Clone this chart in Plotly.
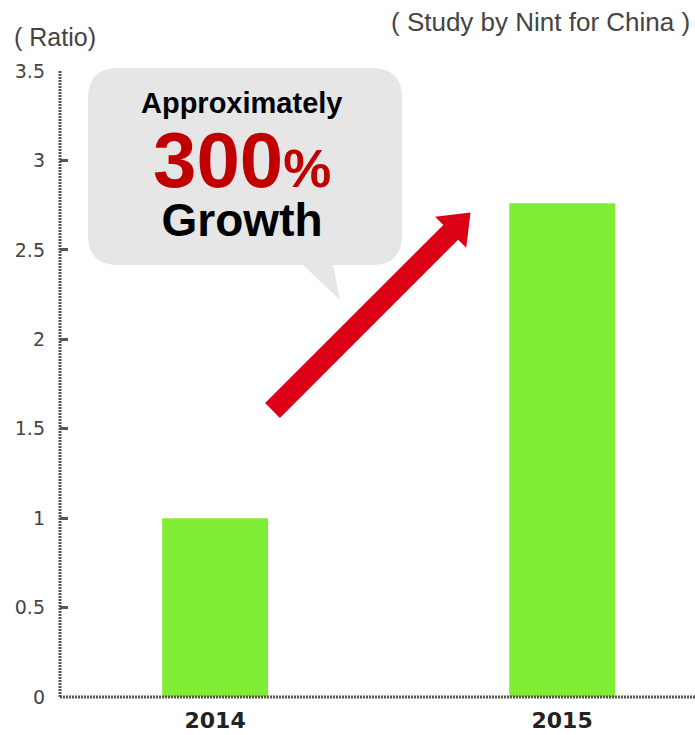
import math
import plotly.graph_objects as go

# Data
years = ["2014", "2015"]
ratio = [1.0, 2.76]
y_ticks = [0, 0.5, 1, 1.5, 2, 2.5, 3, 3.5]
y_tick_text = ["0", "0.5", "1", "1.5", "2", "2.5", "3", "3.5"]

W, H = 695, 735
M_L, M_R, M_T, M_B = 60, 0, 71, 38
PW, PH = W - M_L - M_R, H - M_T - M_B


def px(xp):
    return (xp - M_L) / PW


def py(yp):
    return (H - M_B - yp) / PH


def path_from(points, closed=True):
    s = "M " + " L ".join(f"{px(x):.5f},{py(y):.5f}" for x, y in points)
    return s + (" Z" if closed else "")


fig = go.Figure()
fig.add_trace(go.Bar(
    x=years, y=ratio, width=0.305,
    marker=dict(color="#80EE34", line=dict(width=0)),
    hoverinfo="skip",
))

# speech bubble
L, T, R, B, r = 88, 68, 402, 265, 30
bubble = (
    f"M {px(L + r)},{py(T)} L {px(R - r)},{py(T)} Q {px(R)},{py(T)} {px(R)},{py(T + r)} "
    f"L {px(R)},{py(B - r)} Q {px(R)},{py(B)} {px(R - r)},{py(B)} "
    f"L {px(333)},{py(B)} L {px(340)},{py(300)} L {px(303)},{py(B)} "
    f"L {px(L + r)},{py(B)} Q {px(L)},{py(B)} {px(L)},{py(B - r)} "
    f"L {px(L)},{py(T + r)} Q {px(L)},{py(T)} {px(L + r)},{py(T)} Z"
)

# growth arrow polygon
sx, sy = 272.5, 410.5
ux, uy = 1 / math.sqrt(2), -1 / math.sqrt(2)
nx, ny = 1 / math.sqrt(2), 1 / math.sqrt(2)


def pt(t, o):
    return (sx + ux * t + nx * o, sy + uy * t + ny * o)


arrow_pts = [pt(0, -10.5), pt(252, -10.5), pt(252, -22), pt(280, 0),
             pt(252, 22), pt(252, 10.5), pt(0, 10.5)]

dotted = dict(color="#555555", width=3, dash="2px,1px")
shapes = [
    dict(type="path", path=bubble, xref="paper", yref="paper",
         fillcolor="#E6E6E6", line=dict(width=0), layer="above"),
    dict(type="path", path=path_from(arrow_pts), xref="paper", yref="paper",
         fillcolor="#DC0017", line=dict(width=0), layer="above"),
    dict(type="line", xref="paper", yref="paper", x0=0, x1=0, y0=0, y1=1,
         line=dotted, layer="above"),
    dict(type="line", xref="paper", yref="paper", x0=0, x1=1, y0=0, y1=0,
         line=dotted, layer="above"),
]

headline = (
    "<span style='font-size:78px;color:#C00000'>300"
    "<span style='font-size:54px'>%</span></span><br>"
    "<span style='font-size:46px'>Growth</span>"
)

annotations = [
    dict(text="Approximately", x=px(241), y=py(103), xref="paper", yref="paper",
         showarrow=False, xanchor="center", yanchor="middle",
         font=dict(family="Liberation Sans", size=29, color="#000000", weight="bold")),
    dict(text=headline, x=px(242), y=py(181), xref="paper", yref="paper",
         showarrow=False, xanchor="center", yanchor="middle", align="center",
         font=dict(family="Liberation Sans", size=38, color="#000000", weight="bold")),
    dict(text="( Ratio)", x=px(12), y=py(37), xref="paper", yref="paper",
         showarrow=False, xanchor="left", yanchor="middle",
         font=dict(family="Liberation Sans", size=25, color="#444444")),
    dict(text="( Study by Nint for China )", x=px(692), y=py(22), xref="paper", yref="paper",
         showarrow=False, xanchor="right", yanchor="middle",
         font=dict(family="Liberation Sans", size=26, color="#444444")),
]

fig.update_layout(
    width=W, height=H,
    margin=dict(l=M_L, r=M_R, t=M_T, b=M_B, pad=0),
    paper_bgcolor="white", plot_bgcolor="white",
    showlegend=False,
    shapes=shapes,
    annotations=annotations,
    xaxis=dict(
        type="category", range=[-0.447, 1.383],
        showgrid=False, zeroline=False, showline=False, ticks="",
        ticklabelstandoff=8,
        tickfont=dict(family="DejaVu Sans", size=22, color="#222222", weight="bold"),
    ),
    yaxis=dict(
        range=[0, 3.5], tickvals=y_ticks, ticktext=y_tick_text,
        showgrid=False, zeroline=False, showline=False,
        ticks="inside", ticklen=8, tickwidth=3, tickcolor="#555555",
        ticklabelstandoff=14,
        tickfont=dict(family="DejaVu Sans", size=19, color="#444444"),
    ),
)

fig.write_html("out.html")
